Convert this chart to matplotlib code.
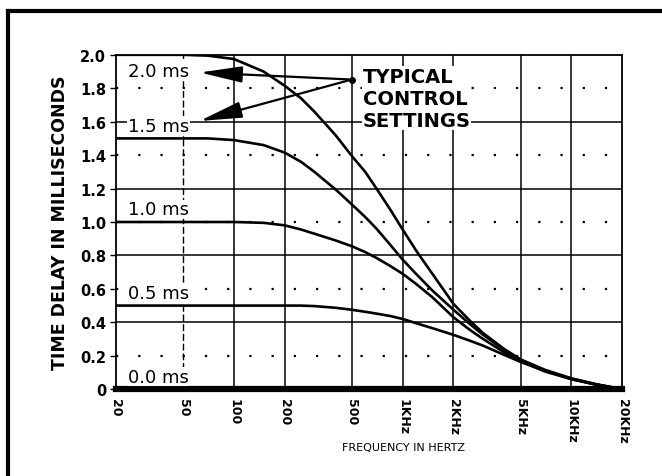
import matplotlib.pyplot as plt
from matplotlib.lines import Line2D
from matplotlib.patches import FancyArrowPatch

freq = [20, 50, 70, 100, 150, 200, 250, 300, 400, 500, 600, 700, 850, 1000, 1200, 1500,
        2000, 2500, 3000, 4000, 5000, 7000, 10000, 14000, 20000]
delay_20 = [2.0, 2.0, 1.995, 1.975, 1.90, 1.815, 1.74, 1.66, 1.52, 1.395, 1.30, 1.20, 1.07, 0.955, 0.83, 0.69,
            0.51, 0.41, 0.335, 0.24, 0.178, 0.115, 0.065, 0.03, 0.0]
delay_15 = [1.5, 1.5, 1.5, 1.49, 1.46, 1.415, 1.36, 1.30, 1.195, 1.105, 1.03, 0.96, 0.86, 0.775, 0.69, 0.59,
            0.475, 0.39, 0.325, 0.235, 0.172, 0.11, 0.06, 0.028, 0.0]
delay_10 = [1.0, 1.0, 1.0, 1.0, 0.995, 0.98, 0.955, 0.93, 0.89, 0.855, 0.82, 0.785, 0.735, 0.69, 0.63, 0.55,
            0.43, 0.355, 0.30, 0.22, 0.166, 0.105, 0.06, 0.027, 0.0]
delay_05 = [0.5, 0.5, 0.5, 0.5, 0.5, 0.5, 0.5, 0.497, 0.487, 0.475, 0.463, 0.452, 0.437, 0.42, 0.395, 0.365,
            0.325, 0.29, 0.26, 0.205, 0.163, 0.11, 0.062, 0.028, 0.0]
delay_00 = [0.0] * len(freq)

curve_labels = ["2.0 ms", "1.5 ms", "1.0 ms", "0.5 ms", "0.0 ms"]
label_y = [1.905, 1.575, 1.075, 0.575, 0.075]

x_ticks = [20, 50, 100, 200, 500, 1000, 2000, 5000, 10000, 20000]
x_ticklabels = ["20", "50", "100", "200", "500", "1KHz", "2KHz", "5KHz", "10KHz", "20KHz"]
y_ticks = [0, 0.2, 0.4, 0.6, 0.8, 1.0, 1.2, 1.4, 1.6, 1.8, 2.0]
y_ticklabels = ["0", "0.2", "0.4", "0.6", "0.8", "1.0", "1.2", "1.4", "1.6", "1.8", "2.0"]

fig = plt.figure(figsize=(6.62, 4.77), dpi=100)
ax = fig.add_axes([0.175, 0.182, 0.765, 0.701])
ax.set_xscale("log")
ax.set_xlim(20, 20000)
ax.set_ylim(0, 2.0)

# grid
for f in [100, 200, 500, 1000, 2000, 5000, 10000]:
    ax.axvline(f, color="black", lw=1.1, zorder=1)
ax.axvline(50, color="black", lw=1.0, ls=(0, (5, 2)), zorder=1)
for v in [0.4, 0.8, 1.2, 1.6]:
    ax.axhline(v, color="black", lw=1.1, zorder=1)
for v in [0.2, 0.6, 1.0, 1.4, 1.8]:
    ax.axhline(v, color="black", lw=1.6, ls=(0, (1, 9)), zorder=1)

# curves
for d in [delay_20, delay_15, delay_10, delay_05]:
    ax.plot(freq, d, color="black", lw=1.9, zorder=3)
ax.plot(freq, delay_00, color="black", lw=4.5, zorder=3, clip_on=False)

for lab, y in zip(curve_labels, label_y):
    ax.text(23.5, y, lab, fontsize=13, va="center", ha="left", zorder=4,
            bbox=dict(facecolor="white", edgecolor="none", pad=0.5))

# arrows
for tip in [(60.5, 1.895), (60.5, 1.60)]:
    arr = FancyArrowPatch((499, 1.852), tip, arrowstyle="-|>,head_length=2.6,head_width=0.5",
                          mutation_scale=10, color="black", lw=1.6, zorder=5)
    ax.add_patch(arr)
ax.plot([499], [1.852], "o", color="black", ms=4, zorder=5)

ax.text(580, 1.93, "TYPICAL\nCONTROL\nSETTINGS", fontsize=14, fontweight="bold",
        va="top", ha="left", linespacing=1.2, zorder=4,
        bbox=dict(facecolor="white", edgecolor="none", pad=0.3))

ax.set_xticks(x_ticks)
ax.set_xticklabels(x_ticklabels, rotation=-90, fontsize=9, fontweight="bold")
ax.minorticks_off()
ax.set_yticks(y_ticks)
ax.set_yticklabels(y_ticklabels, fontsize=10.5, fontweight="bold")
ax.tick_params(axis="x", length=0, pad=6)
ax.tick_params(axis="y", length=4, width=1, pad=3)
for s in ax.spines.values():
    s.set_linewidth(1.3)

fig.text(0.091, 0.533, "TIME DELAY IN MILLISECONDS", rotation=90, fontsize=12.5,
         fontweight="bold", ha="center", va="center")
fig.text(0.61, 0.061, "FREQUENCY IN HERTZ", fontsize=8, ha="center", va="center")

# outer frame (top and left edges only)
fig.add_artist(Line2D([0.012, 1.0], [0.975, 0.975], color="black", lw=3, transform=fig.transFigure))
fig.add_artist(Line2D([0.012, 0.012], [0.0, 0.975], color="black", lw=3, transform=fig.transFigure))

fig.savefig("out.png", dpi=100)
